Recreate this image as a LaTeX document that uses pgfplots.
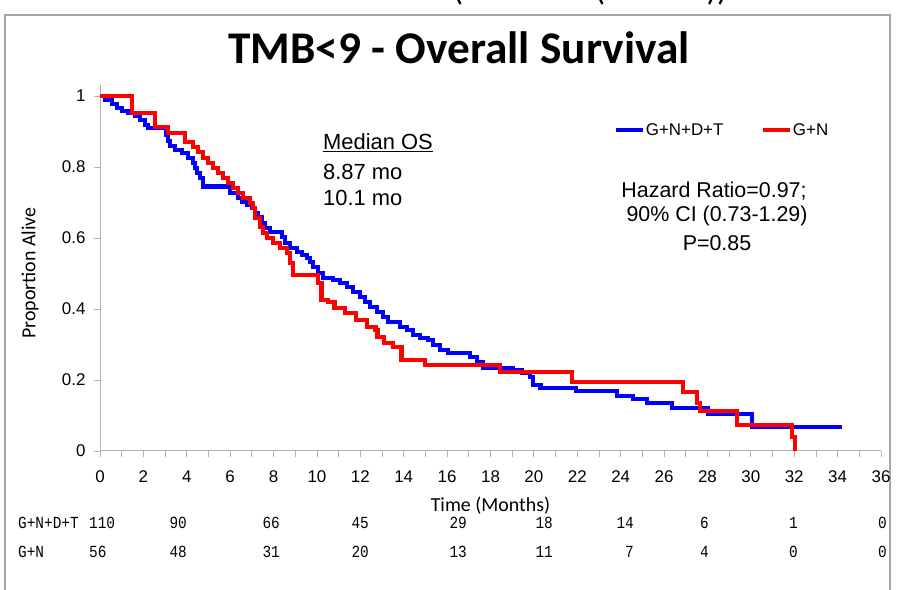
\documentclass[border=0pt]{standalone}
\usepackage{fontspec}
\setmainfont{Liberation Sans}
\newfontfamily\calibri{Carlito}
\newfontfamily\monof[FakeStretch=0.85]{Liberation Mono}
\usepackage{pgfplots}
\pgfplotsset{compat=1.18}
\begin{document}
\begin{tikzpicture}[x=1bp,y=1bp]
\useasboundingbox (0,0) rectangle (904,590);
% frame
\draw[gray!70, line width=1.2bp] (5,0) -- (5,575) -- (890,575) -- (890,0);
% cut-off heading at the very top
\begin{scope}
\clip (0,580) rectangle (904,590);
\node[font=\calibri\fontsize{34}{40}\selectfont, anchor=base] at (458,589) {(};
\node[font=\calibri\fontsize{34}{40}\selectfont, anchor=base] at (600,589) {(};
\node[font=\calibri\fontsize{34}{40}\selectfont, anchor=base] at (717,589) {))};
\end{scope}
% title
\node[font=\calibri\bfseries\fontsize{45.5}{52}\selectfont] at (459,542) {TMB<9 - Overall Survival};
\begin{axis}[
  at={(100bp,139bp)}, anchor=south west,
  scale only axis, width=781bp, height=365.65bp,
  xmin=0, xmax=36, ymin=0, ymax=1.03,
  axis lines=left,
  axis line style={-, gray!60, line width=1bp},
  xtick={0,2,...,36}, minor xtick={1,3,...,35},
  ytick={0,0.2,0.4,0.6,0.8,1},
  tick align=outside,
  major tick length=6bp, minor tick length=6bp,
  tick style={gray!60, line width=0.8bp},
  every tick/.style={gray!60, line width=0.8bp},
  tick label style={font=\fontsize{17}{19}\selectfont, black},
  xticklabel style={yshift=-10bp},
  yticklabel style={xshift=-5bp},
  /pgf/number format/assume math mode=true,
  xlabel={Time (Months)},
  xlabel style={font=\calibri\fontsize{20}{24}\selectfont, at={(axis description cs:0.5,0)}, anchor=center, yshift=-55bp},
  ylabel={Proportion Alive},
  ylabel style={font=\calibri\fontsize{20}{24}\selectfont, at={(axis description cs:-0.0896,0.487)}, anchor=center},
  legend columns=2,
  legend style={draw=none, fill=none, at={(axis description cs:0.657,0.878)}, anchor=west,
    font=\fontsize{17}{20}\selectfont, inner sep=0pt, nodes={inner sep=1bp},
    /tikz/every even column/.append style={column sep=36bp}},
  legend image code/.code={\draw[#1] (0bp,0bp) -- (27bp,0bp);},
]
\addplot[const plot, blue, line width=4.5bp] coordinates {
(0,1) (0.23,0.989) (0.55,0.978) (0.78,0.966) (1.01,0.958) (1.29,0.952) (1.61,0.944)
(1.84,0.932) (2.07,0.918) (2.21,0.910) (3.05,0.890) (3.13,0.873) (3.23,0.859)
(3.46,0.848) (3.78,0.839) (4.06,0.825) (4.29,0.811) (4.38,0.797) (4.47,0.783)
(4.61,0.769) (4.75,0.745) (6.00,0.727) (6.36,0.713) (6.55,0.701) (6.78,0.693)
(7.01,0.685) (7.15,0.670) (7.28,0.659) (7.47,0.642) (7.61,0.628) (7.84,0.617)
(8.39,0.603) (8.53,0.586) (8.76,0.572) (9.08,0.561) (9.31,0.552) (9.54,0.544)
(9.68,0.532) (9.82,0.518) (10.05,0.501) (10.28,0.487) (10.74,0.482) (11.06,0.473)
(11.39,0.462) (11.66,0.448) (11.99,0.434) (12.22,0.420) (12.45,0.406) (12.77,0.392)
(13.05,0.377) (13.28,0.363) (13.83,0.349) (14.15,0.341) (14.43,0.327) (14.75,0.318)
(15.12,0.313) (15.35,0.299) (15.68,0.285) (16.04,0.276) (17.06,0.265) (17.38,0.251)
(17.66,0.234) (19.04,0.228) (19.45,0.220) (19.82,0.208) (19.96,0.186) (20.30,0.177)
(21.95,0.169) (23.84,0.155) (24.57,0.146) (25.22,0.135) (26.37,0.121) (28.03,0.104)
(30.06,0.068) (34.20,0.068)
};
\addlegendentry{G+N+D+T}
\addplot[const plot, red, line width=4.5bp] coordinates {
(0,1) (1.48,0.952) (2.54,0.913) (3.13,0.896) (3.92,0.870) (4.29,0.856) (4.52,0.842)
(4.75,0.825) (4.98,0.811) (5.21,0.797) (5.44,0.783) (5.67,0.769) (5.90,0.755)
(6.13,0.741) (6.36,0.727) (6.59,0.713) (6.92,0.699) (7.05,0.685) (7.15,0.656)
(7.38,0.631) (7.51,0.614) (7.70,0.600) (7.98,0.586) (8.30,0.572) (8.62,0.558)
(8.76,0.530) (8.90,0.496) (10.05,0.473) (10.20,0.425) (10.50,0.420) (10.80,0.403)
(11.30,0.389) (11.80,0.369) (12.30,0.349) (12.70,0.341) (12.80,0.321) (13.10,0.304)
(13.50,0.293) (13.90,0.256) (14.98,0.242) (18.44,0.223) (21.76,0.194) (26.88,0.166)
(27.52,0.135) (27.66,0.113) (29.37,0.073) (31.90,0.039) (32.04,0.000)
};
\addlegendentry{G+N}
\end{axis}
% annotations
\node[anchor=west, font=\fontsize{22}{26}\selectfont, inner sep=0pt] at (323,447) {\underline{Median OS}};
\node[anchor=west, font=\fontsize{22}{26}\selectfont, inner sep=0pt] at (323,418) {8.87 mo};
\node[anchor=west, font=\fontsize{22}{26}\selectfont, inner sep=0pt] at (323,392) {10.1 mo};
\node[font=\fontsize{21.5}{26}\selectfont, inner sep=0pt] at (714,399) {Hazard Ratio=0.97;};
\node[font=\fontsize{21.5}{26}\selectfont, inner sep=0pt] at (717,374) {90\% CI (0.73-1.29)};
\node[font=\fontsize{21.5}{26}\selectfont, inner sep=0pt] at (717,347) {P=0.85};
% numbers at risk
\begin{scope}[every node/.style={font=\monof\fontsize{17}{19}\selectfont, inner sep=0pt}]
\node[anchor=base west] at (18,61) {G+N+D+T};
\node[anchor=base west] at (18,32) {G+N};
\node[anchor=base west] at (89,61) {110};
\node[anchor=base west] at (89,32) {56};
\foreach \x/\a/\b in {187/90/48, 280/66/31, 369/45/20, 467/29/13, 553/18/11, 634/14/7, 709/6/4, 798/1/0, 887/0/0} {
  \node[anchor=base east] at (\x,61) {\a};
  \node[anchor=base east] at (\x,32) {\b};
}
\end{scope}
\end{tikzpicture}
\end{document}
